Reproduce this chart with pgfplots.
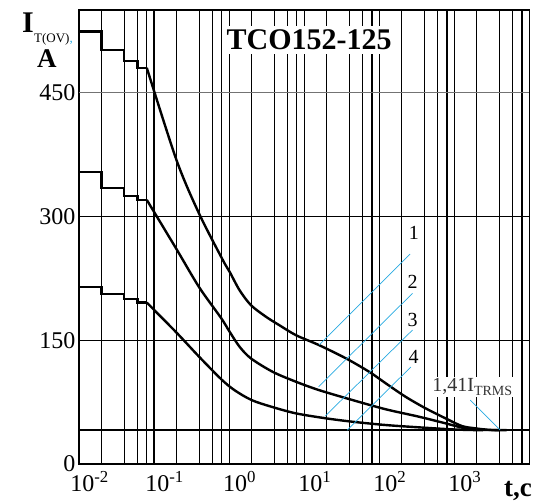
\documentclass[border=0pt]{standalone}
\usepackage{fontspec}
\setmainfont{Liberation Serif}
\usepackage{pgfplots}
\pgfplotsset{compat=1.18}
\definecolor{leader}{RGB}{40,170,225}
\begin{document}
\begin{tikzpicture}
\useasboundingbox (-79pt,-38pt) rectangle (465pt,464pt);
\begin{axis}[
  at={(0,0)}, anchor=south west,
  scale only axis, width=450.3pt, height=454pt,
  xmode=log, xmin=5e-3, xmax=5e3, ymin=0, ymax=550,
  xtick={1e-2,1e-1,1,10,100,1000},
  xticklabels={10\textsuperscript{-2},10\textsuperscript{-1},10\textsuperscript{0},10\textsuperscript{1},10\textsuperscript{2},10\textsuperscript{3}},
  minor xtick={2e-2,3e-2,4e-2,5e-2,2e-1,3e-1,4e-1,5e-1,2,3,4,5,20,30,40,50,200,300,400,500,2000,3000,4000},
  xmajorgrids, xminorgrids,
  ytick={0,150,300,450},
  major tick length=0pt, minor tick length=0pt,
  grid style={black, line width=1.15pt},
  minor grid style={black, line width=1.15pt},
  axis line style={line width=1.4pt},
  tick label style={font=\fontsize{24}{24}\selectfont},
  xticklabel style={xshift=-12pt, yshift=-4pt},
  /pgf/number format/assume math mode=true,
]
\draw[black, line width=0.9pt] (axis cs:5e-3,150) -- (axis cs:5e3,150);
\draw[black, line width=0.9pt] (axis cs:5e-3,300) -- (axis cs:5e3,300);
\draw[black!55, line width=1.1pt] (axis cs:5e-3,450) -- (axis cs:5e3,450);
% curve 1
\addplot[black, line width=2.4pt, sharp plot] coordinates {(5e-3,524)(1e-2,524)(1e-2,501.6)(2e-2,501.6)(2e-2,488)(3e-2,488)(3e-2,480)(4e-2,480)};
\addplot[black, line width=2.4pt, smooth, tension=0.5] coordinates {(4e-2,480)(0.1,367.7)(0.2,303)(0.414,246.8)(0.51,232.6)(0.69,210.5)(0.98,192.3)(1.56,178.2)(2.34,168.1)(3.9,156)(7.9,144)(18,128)(36.6,111.8)(61,97.8)(112,81.5)(207,67.5)(381,55.4)(632,46)(953,43.2)(1500,41.3)(2500,41)};
% curve 2
\addplot[black, line width=2.4pt, sharp plot] coordinates {(5e-3,353.6)(1e-2,353.6)(1e-2,334.6)(2e-2,334.6)(2e-2,324.6)(3e-2,324.6)(3e-2,320)(4e-2,320)};
\addplot[black, line width=2.4pt, smooth, tension=0.5] coordinates {(4e-2,320)(0.1,260)(0.2,214)(0.39,177)(0.51,160)(0.69,142)(0.98,127.8)(1.91,111.6)(3.9,99.6)(7.9,89.5)(22,77.5)(61,66.3)(169,57.3)(381,49.3)(701,43.2)(1200,41.4)(2000,41)};
% curve 3
\addplot[black, line width=2.4pt, sharp plot] coordinates {(5e-3,214.5)(1e-2,214.5)(1e-2,205.6)(2e-2,205.6)(2e-2,200)(3e-2,200)(3e-2,195.6)(4e-2,195.6)};
\addplot[black, line width=2.4pt, smooth, tension=0.5] coordinates {(4e-2,195.6)(0.1,159)(0.2,129.8)(0.4,102)(0.6,89)(1,77.4)(1.84,69.3)(3.9,61.3)(9.8,55.3)(22,51.2)(61,47.2)(169,44.4)(450,42)(800,41.2)(1200,41)};
% line 4
\addplot[black, line width=2.4pt, sharp plot] coordinates {(5e-3,41)(5e3,41)};
% leaders
\draw[leader, line width=0.7pt] (axis cs:7.94,144.2) -- (axis cs:129,254.4);
\draw[leader, line width=0.7pt] (axis cs:7.78,93.6) -- (axis cs:139,206.8);
\draw[leader, line width=0.7pt] (axis cs:9.55,58.1) -- (axis cs:139,162.3);
\draw[leader, line width=0.7pt] (axis cs:18.7,41) -- (axis cs:132,117.5);
\node[font=\fontsize{20}{20}\selectfont, inner sep=0pt] at (axis cs:144.5,279.8) {1};
\node[font=\fontsize{20}{20}\selectfont, inner sep=0pt] at (axis cs:139,220.8) {2};
\node[font=\fontsize{20}{20}\selectfont, inner sep=0pt] at (axis cs:139,174.4) {3};
\node[font=\fontsize{20}{20}\selectfont, inner sep=0pt] at (axis cs:143.5,130) {4};
\node[fill=white, inner sep=1.5pt, text=black!80, font=\fontsize{20}{20}\selectfont] at (axis cs:877,93.3) {1,41I\textsubscript{TRMS}};
\draw[leader, line width=0.7pt] (axis cs:817,77.5) -- (axis cs:2042,41.2);
\node[fill=white, inner sep=4pt, font=\bfseries\fontsize{30}{30}\selectfont, anchor=base] at (rel axis cs:0.511,0.912) {TCO152-125};
\end{axis}
\node[anchor=base west, inner sep=0pt, font=\bfseries\fontsize{30}{30}\selectfont] at (-57pt,431pt) {I};
\node[anchor=base west, inner sep=0pt, font=\fontsize{13}{13}\selectfont] at (-45pt,421pt) {T(OV)\textcolor{leader}{,}};
\node[anchor=base west, inner sep=0pt, font=\bfseries\fontsize{27}{27}\selectfont] at (-42pt,396pt) {A};
\node[anchor=base west, inner sep=0pt, font=\bfseries\fontsize{27}{27}\selectfont] at (425pt,-32.7pt) {t,c};
\end{tikzpicture}
\end{document}
